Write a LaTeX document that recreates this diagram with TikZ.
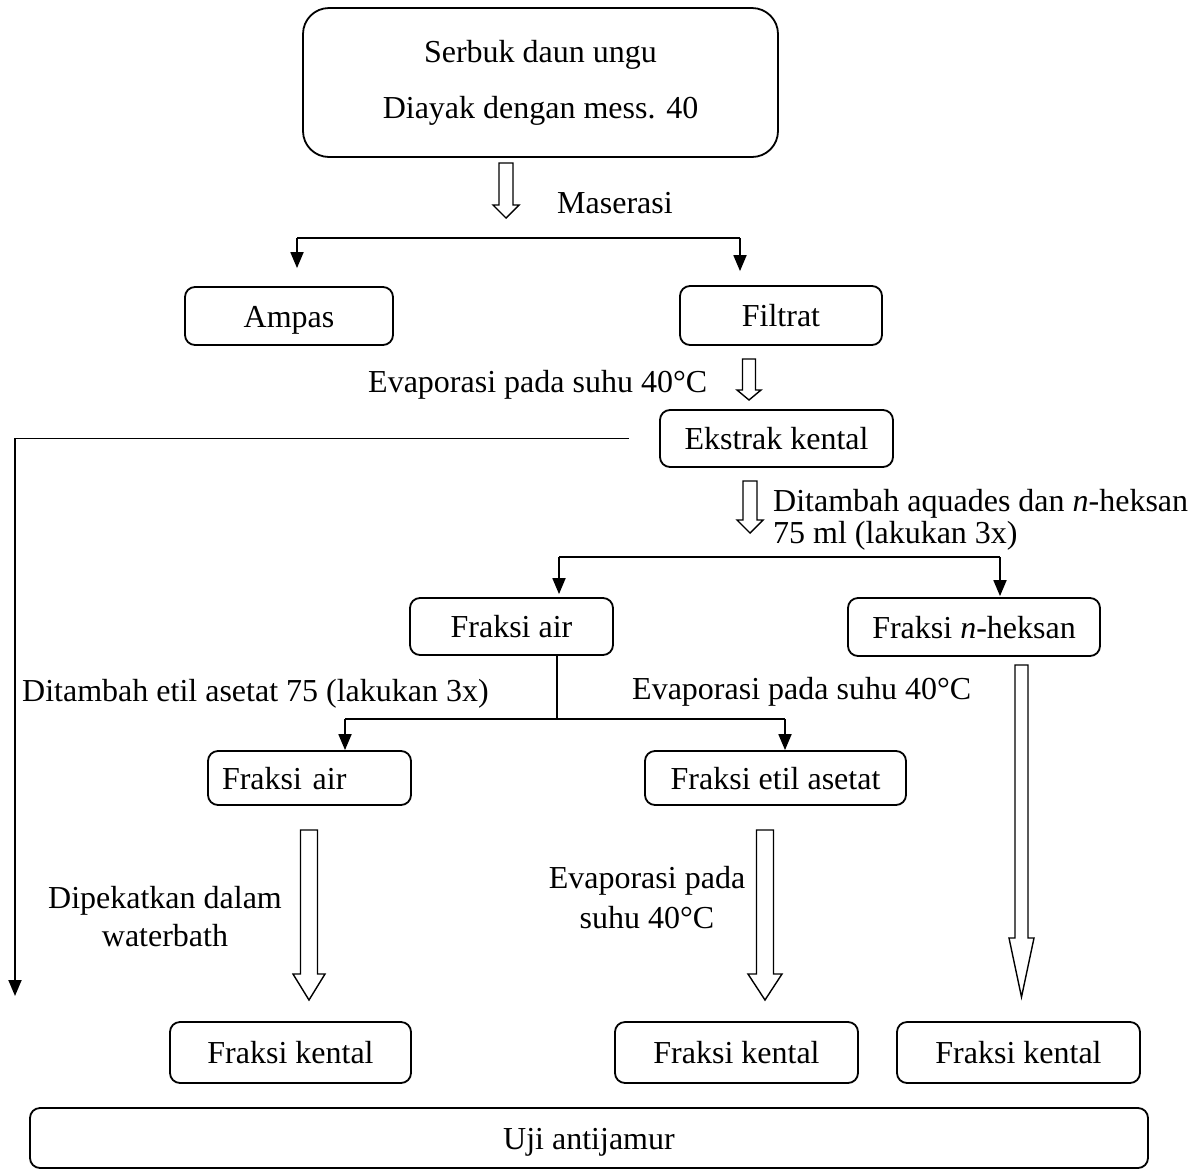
\documentclass[tikz,border=0pt]{standalone}
\usepackage{fontspec}
\setmainfont{Liberation Serif}
\usetikzlibrary{arrows.meta}
\newcommand\hollowarr[6]{\draw[hol] ({#1-#5},#2) -- ({#1+#5},#2) -- ({#1+#5},#3) -- ({#1+#6},#3) -- (#1,#4) -- ({#1-#6},#3) -- ({#1-#5},#3) -- cycle;}
\begin{document}
\begin{tikzpicture}[x=1pt,y=-1pt,
  every node/.style={font=\fontsize{32}{38}\selectfont},
  box/.style={draw, line width=1.8pt, rounded corners=10pt, inner sep=0pt, align=center},
  onebox/.style={box, text height=26pt, text depth=4pt},
  conn/.style={line width=1.8pt},
  arr/.style={conn, -{Triangle[length=16pt,width=13pt]}},
  hol/.style={draw, line width=1.4pt, fill=white, line join=miter},
  lbl/.style={inner sep=0pt}]
\useasboundingbox (0,0) rectangle (1200,1171);

% boxes
\node[box, rounded corners=26pt, minimum width=475pt, minimum height=149pt,
      font=\fontsize{32}{56}\selectfont] (top) at (540.5,82.5) {Serbuk daun ungu\\Diayak dengan mess. 40};
\node[onebox, minimum width=208pt, minimum height=58pt] (ampas) at (289,316) {Ampas};
\node[onebox, minimum width=202pt, minimum height=59pt] (filtrat) at (781,315.5) {Filtrat};
\node[onebox, minimum width=233pt, minimum height=57pt] (ek) at (776.5,438.5) {Ekstrak kental};
\node[onebox, minimum width=203pt, minimum height=57pt] (fa1) at (511.5,626.5) {Fraksi air};
\node[onebox, minimum width=252pt, minimum height=58pt] (fnh) at (974,627) {Fraksi \textit{n}-heksan};
\node[onebox, minimum width=203pt, minimum height=54pt, text width=175pt, align=left] (fa2) at (309.5,778) {Fraksi air};
\node[onebox, minimum width=261pt, minimum height=54pt] (fea) at (775.5,778) {Fraksi etil asetat};
\node[onebox, minimum width=241pt, minimum height=61pt] (fk1) at (290.5,1052.5) {Fraksi kental};
\node[onebox, minimum width=243pt, minimum height=61pt] (fk2) at (736.5,1052.5) {Fraksi kental};
\node[onebox, minimum width=243pt, minimum height=61pt] (fk3) at (1018.5,1052.5) {Fraksi kental};
\node[onebox, minimum width=1118pt, minimum height=60pt] (uji) at (589,1138) {Uji antijamur};

% labels
\node[lbl, anchor=west] (lmas) at (557,203) {Maserasi};
\node[lbl, anchor=west] (lev1) at (368,385) {Evaporasi pada suhu 40°C};
\node[lbl, anchor=west, align=left, font=\fontsize{32}{32}\selectfont] (ldit) at (773,520) {Ditambah aquades dan \textit{n}-heksan\\75 ml (lakukan 3x)};
\node[lbl, anchor=west] (letil) at (22,694) {Ditambah etil asetat 75 (lakukan 3x)};
\node[lbl, anchor=west] (lev2) at (632,692) {Evaporasi pada suhu 40°C};
\node[lbl, align=center, font=\fontsize{32}{38}\selectfont] (ldip) at (165,917) {Dipekatkan dalam\\waterbath};
\node[lbl, align=center, font=\fontsize{32}{40}\selectfont] (lev3) at (647,898) {Evaporasi pada\\suhu 40°C};

% hollow arrows
\hollowarr{506}{163}{205}{218}{7}{13}
\hollowarr{749}{359}{390}{400}{6.5}{12}
\hollowarr{750}{481}{520}{533}{7}{13}
\hollowarr{309}{830}{974}{1000}{8.5}{16}
\hollowarr{765}{830}{974}{1000}{8.5}{17}
\hollowarr{1021.5}{665}{938}{997}{6.5}{12.5}

% split after maserasi
\coordinate (s1l) at (297,238);
\coordinate (s1r) at (740,238);
\draw[conn] (s1l) -- (s1r);
\draw[arr] (s1l) -- ([yshift=18pt]ampas.north -| s1l);
\draw[arr] (s1r) -- ([yshift=14pt]filtrat.north -| s1r);

% left long arrow
\coordinate (lend) at (15,996);
\draw[arr] ([xshift=-30pt]ek.west) -| (lend);

% split after ekstrak
\coordinate (s2l) at (559,557);
\coordinate (s2r) at (1000,557);
\draw[conn] (s2l) -- (s2r);
\draw[arr] (s2l) -- ([yshift=3pt]fa1.north -| s2l);
\draw[arr] (s2r) -- ([yshift=1pt]fnh.north -| s2r);

% split after fraksi air
\coordinate (s3) at (557,719);
\coordinate (s3l) at (345,719);
\coordinate (s3r) at (785,719);
\draw[conn] (fa1.south -| s3) -- (s3);
\draw[conn] (s3l) -- (s3r);
\draw[arr] (s3l) -- (fa2.north -| s3l);
\draw[arr] (s3r) -- (fea.north -| s3r);
\end{tikzpicture}
\end{document}
